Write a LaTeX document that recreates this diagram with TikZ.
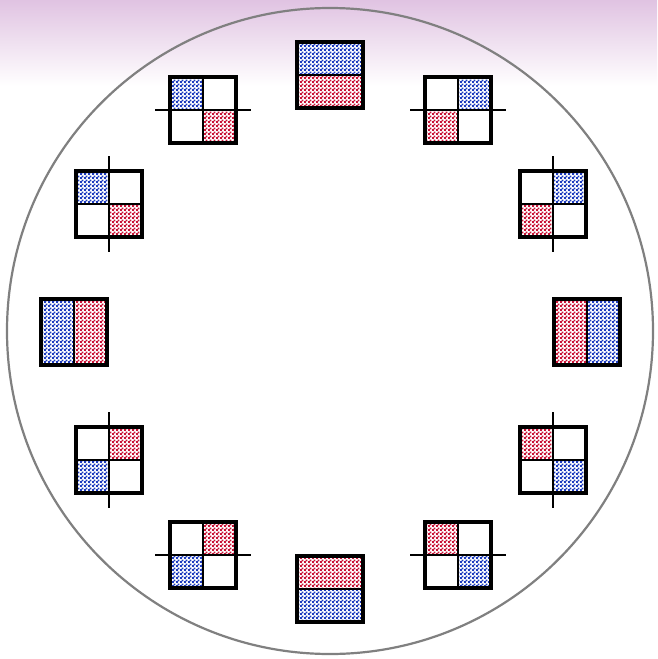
\documentclass[tikz,border=0pt]{standalone}
\usetikzlibrary{patterns.meta}
\definecolor{pblue}{RGB}{30,60,190}
\definecolor{pred}{RGB}{200,20,55}
\definecolor{lav}{RGB}{224,195,226}
\definecolor{ringgray}{RGB}{128,128,128}
\tikzdeclarepattern{name=mydots,type=uncolored,bounding box={(0pt,0pt) and (4pt,4pt)},tile size={(4pt,4pt)},code={\fill (0pt,0pt) rectangle (2.2pt,2.2pt); \fill (2pt,2pt) rectangle (4.2pt,4.2pt);}}
\tikzset{
  boxframe/.style={draw=black,line width=3.2pt},
  divider/.style={draw=black,line width=2pt},
  crossline/.style={draw=black,line width=2.8pt},
  ring/.style={draw=ringgray,line width=2.2pt}
}
\newcommand\prect[5]{\fill[pattern=mydots,pattern color=#5] (#1,#2) rectangle (#3,#4);}
\newcommand\qframe[2]{%
  \draw[divider] (#1+33,#2) -- ++(0,66);
  \draw[divider] (#1,#2+33) -- ++(66,0);
  \draw[boxframe] (#1,#2) rectangle ++(66,66);}
\newcommand\wfill[2]{\fill[white] (#1,#2) rectangle ++(66,66);}
\begin{document}
\begin{tikzpicture}[x=1pt,y=-1pt]
\useasboundingbox (0,0) rectangle (657,659);
\fill[white] (0,0) rectangle (657,659);
\shade[top color=lav,bottom color=white] (0,0) rectangle (657,86);
\draw[ring] (330,331) circle[radius=323pt];
% top box
\wfill{297}{42}
\prect{297}{42}{363}{75}{pblue}
\prect{297}{75}{363}{108}{pred}
\draw[divider] (297,75) -- (363,75);
\draw[boxframe] (297,42) rectangle ++(66,66);
% bottom box
\wfill{297}{556}
\prect{297}{556}{363}{589}{pred}
\prect{297}{589}{363}{622}{pblue}
\draw[divider] (297,589) -- (363,589);
\draw[boxframe] (297,556) rectangle ++(66,66);
% left box
\wfill{41}{299}
\prect{41}{299}{74}{365}{pblue}
\prect{74}{299}{107}{365}{pred}
\draw[divider] (74,299) -- (74,365);
\draw[boxframe] (41,299) rectangle ++(66,66);
% right box
\wfill{554}{299}
\prect{554}{299}{587}{365}{pred}
\prect{587}{299}{620}{365}{pblue}
\draw[divider] (587,299) -- (587,365);
\draw[boxframe] (554,299) rectangle ++(66,66);
% top-left
\wfill{170}{77}
\prect{170}{77}{203}{110}{pblue}
\prect{203}{110}{236}{143}{pred}
\qframe{170}{77}
\draw[crossline] (155,110) -- (251,110);
% top-right
\wfill{425}{77}
\prect{458}{77}{491}{110}{pblue}
\prect{425}{110}{458}{143}{pred}
\qframe{425}{77}
\draw[crossline] (410,110) -- (506,110);
% upper-left
\wfill{76}{171}
\prect{76}{171}{109}{204}{pblue}
\prect{109}{204}{142}{237}{pred}
\qframe{76}{171}
\draw[crossline] (109,156) -- (109,252);
% upper-right
\wfill{520}{171}
\prect{553}{171}{586}{204}{pblue}
\prect{520}{204}{553}{237}{pred}
\qframe{520}{171}
\draw[crossline] (553,156) -- (553,252);
% lower-left
\wfill{76}{427}
\prect{109}{427}{142}{460}{pred}
\prect{76}{460}{109}{493}{pblue}
\qframe{76}{427}
\draw[crossline] (109,412) -- (109,508);
% lower-right
\wfill{520}{427}
\prect{520}{427}{553}{460}{pred}
\prect{553}{460}{586}{493}{pblue}
\qframe{520}{427}
\draw[crossline] (553,412) -- (553,508);
% bottom-left
\wfill{170}{522}
\prect{203}{522}{236}{555}{pred}
\prect{170}{555}{203}{588}{pblue}
\qframe{170}{522}
\draw[crossline] (155,555) -- (251,555);
% bottom-right
\wfill{425}{522}
\prect{425}{522}{458}{555}{pred}
\prect{458}{555}{491}{588}{pblue}
\qframe{425}{522}
\draw[crossline] (410,555) -- (506,555);
\end{tikzpicture}
\end{document}
